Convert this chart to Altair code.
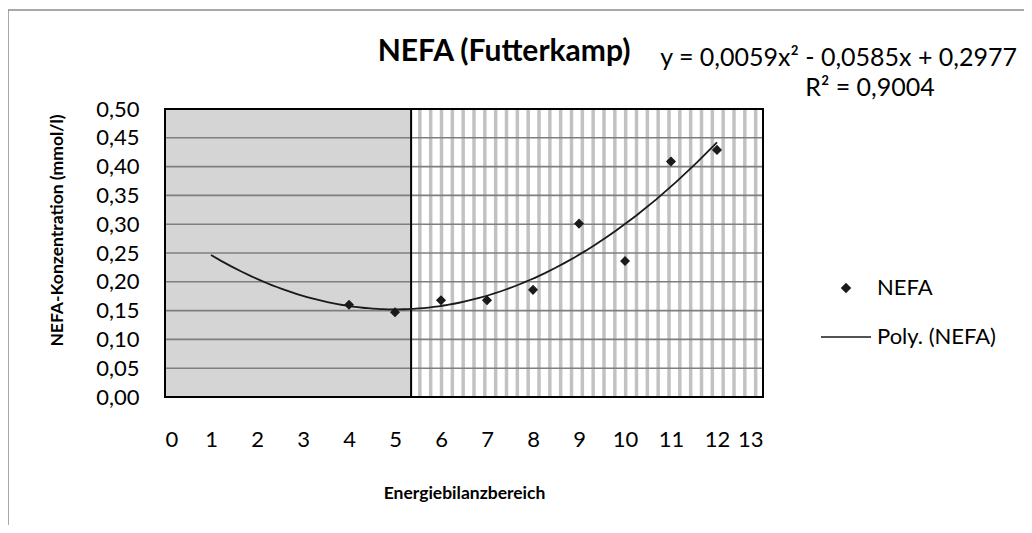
import altair as alt
import pandas as pd
import numpy as np

# ---- data ----
energy = [4, 5, 6, 7, 8, 9, 10, 11, 12]
nefa = [0.160, 0.147, 0.168, 0.168, 0.186, 0.301, 0.236, 0.409, 0.429]
series_names = ["NEFA", "Poly. (NEFA)"]
x_ticks = list(range(0, 14))
y_ticks = [0.00, 0.05, 0.10, 0.15, 0.20, 0.25, 0.30, 0.35, 0.40, 0.45, 0.50]
region_start = [0.0, 5.35]
region_end = [5.35, 13.0]
trend_extent = [1, 12]
chart_title = "NEFA (Futterkamp)"
eq_text = "y = 0,0059x² - 0,0585x + 0,2977"
r2_text = "R² = 0,9004"
x_title = "Energiebilanzbereich"
y_title = "NEFA-Konzentration (mmol/l)"

FONT = "Lato"
W, H = 598, 288
INK = "#1a1a1a"

df = pd.DataFrame({"x": energy, "y": nefa, "series": series_names[0]})
regions = pd.DataFrame({"start": region_start, "end": region_end})
grid = pd.DataFrame({"v": y_ticks})
# background pattern of the right-hand region (decoration only)
stripes = pd.DataFrame({"x": np.arange(5.54, 13.0, 0.2355)})

x_scale = alt.Scale(domain=[0, 13], nice=False, zero=False)
y_scale = alt.Scale(domain=[0, 0.5], nice=False)

x_axis = alt.Axis(
    values=x_ticks, grid=False, ticks=False, domain=False,
    labelFont=FONT, labelFontSize=22, labelColor="black", labelPadding=32,
    labelBaseline="top",
    title=x_title, titleFont=FONT, titleFontSize=17.5, titleFontWeight="bold",
    titleColor="black", titleX=W / 2, titleY=96, titleBaseline="middle",
)
y_axis = alt.Axis(
    values=y_ticks, grid=False, ticks=False, domain=False,
    labelFont=FONT, labelFontSize=22, labelColor="black", labelPadding=26,
    labelExpr="replace(format(datum.value, '.2f'), '.', ',')",
    title=y_title, titleFont=FONT, titleFontSize=17.5, titleFontWeight="bold",
    titleColor="black", titleX=-108, titleY=121, titleAngle=-90,
    titleAlign="center", titleBaseline="middle",
)

left_bg = alt.Chart(regions.iloc[[0]]).mark_rect(color="#d5d5d5").encode(
    x=alt.X("start:Q", scale=x_scale, axis=x_axis),
    x2="end:Q",
    y=alt.YDatum(0, scale=y_scale, axis=y_axis),
    y2=alt.Y2Datum(0.5),
)

stripe_layer = alt.Chart(stripes).mark_rule(color="#c2c2c2", strokeWidth=3.5).encode(
    x=alt.X("x:Q", scale=x_scale, axis=x_axis),
    y=alt.YDatum(0, scale=y_scale, axis=y_axis),
    y2=alt.Y2Datum(0.5),
)

grid_layer = alt.Chart(grid).mark_rule(color="#7f7f7f", strokeWidth=1.6).encode(
    y=alt.Y("v:Q", scale=y_scale, axis=y_axis),
    x=alt.XDatum(0, scale=x_scale, axis=x_axis),
    x2=alt.X2Datum(13),
)

divider = alt.Chart(regions.iloc[[1]]).mark_rule(color="black", strokeWidth=2).encode(
    x=alt.X("start:Q", scale=x_scale, axis=x_axis),
    y=alt.YDatum(0, scale=y_scale, axis=y_axis),
    y2=alt.Y2Datum(0.5),
)

border = alt.Chart(regions.iloc[[0]]).mark_rect(
    fillOpacity=0, stroke="black", strokeWidth=2
).encode(
    x=alt.XDatum(0, scale=x_scale, axis=x_axis),
    x2=alt.X2Datum(13),
    y=alt.YDatum(0, scale=y_scale, axis=y_axis),
    y2=alt.Y2Datum(0.5),
)

trend = alt.Chart(df).transform_regression(
    "x", "y", method="poly", order=2, extent=trend_extent
).mark_line(color=INK, strokeWidth=1.8).encode(
    x=alt.X("x:Q", scale=x_scale, axis=x_axis),
    y=alt.Y("y:Q", scale=y_scale, axis=y_axis),
)

legend = alt.Legend(
    title=None, orient="none", legendX=655, legendY=168, padding=0,
    labelFont=FONT, labelFontSize=22, labelColor="black", labelOffset=5,
    rowPadding=12, symbolStrokeWidth=1.5,
)

points = alt.Chart(df).mark_point(filled=True, opacity=1, strokeWidth=1.2).encode(
    x=alt.X("x:Q", scale=x_scale, axis=x_axis),
    y=alt.Y("y:Q", scale=y_scale, axis=y_axis),
    shape=alt.Shape("series:N", scale=alt.Scale(domain=series_names, range=["diamond", "stroke"]), legend=legend),
    size=alt.Size("series:N", scale=alt.Scale(domain=series_names, range=[70, 2500]), legend=legend),
    color=alt.Color("series:N", scale=alt.Scale(domain=series_names, range=[INK, INK]), legend=legend),
    stroke=alt.Stroke("series:N", scale=alt.Scale(domain=series_names, range=[INK, INK]), legend=legend),
)

one = pd.DataFrame({"a": [0]})
title_mark = alt.Chart(one).mark_text(
    text=chart_title, font=FONT, fontSize=30, fontWeight="bold", color="black",
    align="center", baseline="middle"
).encode(x=alt.value(339), y=alt.value(-57))
eq_mark = alt.Chart(one).mark_text(
    text=eq_text, font=FONT, fontSize=25, color="black", align="right", baseline="middle"
).encode(x=alt.value(852), y=alt.value(-51))
r2_mark = alt.Chart(one).mark_text(
    text=r2_text, font=FONT, fontSize=25, color="black", align="center", baseline="middle"
).encode(x=alt.value(705), y=alt.value(-21))

outer = alt.Chart(one).mark_rect(fillOpacity=0, stroke="#8c8c8c", strokeWidth=1.5).encode(
    x=alt.value(-157), x2=alt.value(900), y=alt.value(-99), y2=alt.value(460)
)

chart = alt.layer(
    outer, left_bg, stripe_layer, grid_layer, divider, trend, points, border,
    title_mark, eq_mark, r2_mark,
).properties(
    width=W, height=H,
    autosize=alt.AutoSizeParams(type="none"),
    padding={"left": 157, "top": 101, "right": 261, "bottom": 128},
).configure_view(stroke=None).configure(background="white")

chart.save("out.html", embed_options={"renderer": "svg", "actions": False})
